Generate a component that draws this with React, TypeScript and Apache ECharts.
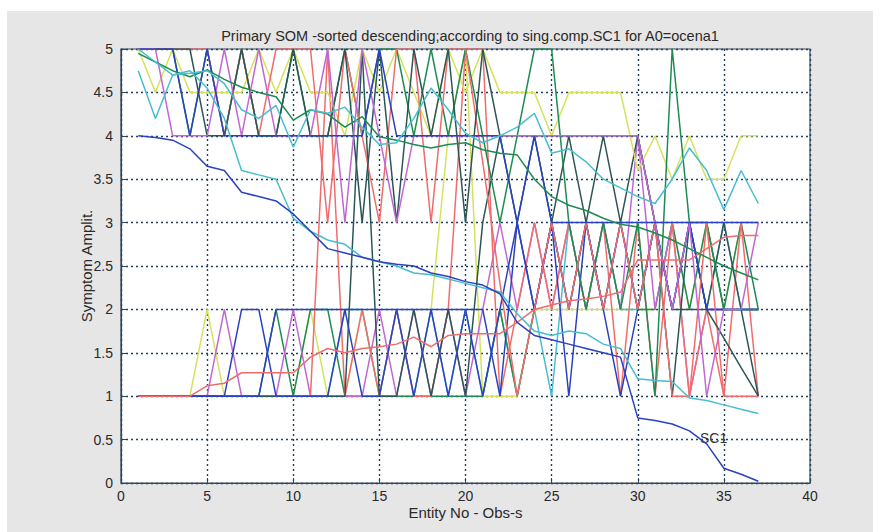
import React, { useEffect, useRef } from "react";
import * as echarts from "echarts";

const entityNo = [1,2,3,4,5,6,7,8,9,10,11,12,13,14,15,16,17,18,19,20,21,22,23,24,25,26,27,28,29,30,31,32,33,34,35,36,37];

const xTicks = [0,5,10,15,20,25,30,35,40];

// smooth component lines
const sc1 =     [4.0,3.98,3.95,3.85,3.65,3.6,3.35,3.3,3.25,3.1,2.9,2.7,2.65,2.6,2.55,2.52,2.5,2.42,2.38,2.32,2.28,2.18,1.85,1.7,1.65,1.6,1.55,1.5,1.45,0.75,0.72,0.68,0.6,0.45,0.17,0.1,0.02];
const cyanLow = [4.75,4.2,4.7,4.75,4.55,4.2,3.6,3.55,3.5,3.05,2.9,2.8,2.75,2.6,2.55,2.5,2.42,2.4,2.35,2.3,2.25,2.2,1.95,1.75,1.7,1.75,1.72,1.6,1.55,1.2,1.18,1.17,0.98,0.95,0.9,0.85,0.8];
const cyanUp =  [5.0,4.85,4.7,4.72,4.75,4.6,4.3,4.2,4.35,3.87,4.3,4.26,4.33,4.1,3.9,3.92,4.2,4.55,4.3,4.03,3.92,4.0,4.1,4.26,3.8,3.85,3.7,3.5,3.4,3.3,3.22,3.5,3.86,3.6,3.15,3.6,3.22];
const greenSm = [4.95,4.85,4.75,4.68,4.76,4.65,4.56,4.5,4.45,4.18,4.3,4.25,4.1,4.22,3.99,3.95,3.9,3.86,3.9,3.92,3.84,3.8,3.78,3.5,3.3,3.2,3.14,3.05,2.98,2.95,2.88,2.8,2.7,2.6,2.5,2.42,2.34];
const redSm =   [1,1,1,1,1.12,1.15,1.27,1.27,1.27,1.27,1.45,1.55,1.5,1.55,1.57,1.6,1.68,1.57,1.7,1.72,1.72,1.72,1.85,2.0,2.05,2.1,2.12,2.15,2.2,2.57,2.57,2.57,2.57,2.7,2.83,2.85,2.85];

// symptom lines (upper group)
const uBlue =  [5,5,5,4,5,4,4,4,4,4,4,4,4,4,5,4,4,4,4,4,4,4,3,4,3,3,3,3,3,3,3,3,3,3,3,3,3];
const uMag =   [5,5,4,4,4,5,4,5,4,4,4,5,3,5,4,3,4,4,4,4,4,4,4,4,4,4,4,4,4,4,3,2,3,1,2,2,3];
const uDark =  [5,5,5,5,4,4,5,4,4,5,4,4,5,3,5,3,5,4,5,3,5,4,4,4,4,4,4,4,4,4,3,2,2,2,1.67,1.33,1];
const uRed =   [5,5,5,5,5,4,5,4,5,5,5,3,5,4,3,5,5,3,5,5,3.7,2.3,1,2,3,2,3,2,3,2,3,1,1,3,1,1,1];
const uGreen = [5,5,5,4,5,4,5,4,4,5,4,4,5,4,5,5,4,5,4,5,4,3,4,5,5,3,2,3,2,3,1,5,3,3,2,2,2];
const uYel =   [5,4.5,5,4.5,4.5,4.5,4.5,5,4.5,5,4.5,4.5,4,5,4.5,5,4.5,4,5,4.5,5,4.5,4.5,4.5,4,4.5,4.5,4.5,4.5,3.6,4,3.5,4,3.5,3.5,4,4];

// symptom lines (lower group)
const lBlue =  [1,1,1,1,1,1,2,2,1,1,1,1,2,1,1,2,1,2,1,2,2,1,3,2,3,2,3,2,3,2,3,2,3,2,2,2,2];
const lBlue2 = [1,1,1,1,1,1,1,1,2,2,2,2,2,2,2,2,2,2,2,2,1,2,3,2,3,1,3,2,1,2,3,2,3,2,2,2,2];
const lMag =   [1,1,1,1,1,2,1,1,1,2,1,1,1,1,2,1,2,1,2,1,2,3,2,3,2,3,2,3,2,4,2,3,1,2,2,2,2];
const lYel =   [1,1,1,1,2,1,1,1,1,1,2,1,1,2,1,1,1,2,4,5,1,1,1,2,2,2,2,2,2,2,2,3,2,3,2,3,3];
const lGreen = [1,1,1,1,1,1,1,1,2,1,2,2,1,1,1,1,1,1,1,1,1,2,1,2,3,2,3,2,3,2,2,3,2,3,2,3,2];
const lCyan =  [1,1,1,1,1,1,1,1,1,1,1,1,2,2,1,2,1,2,1,2,1,2,1,2,1,3,2,3,2,2,3,2,3,2,3,2,2];
const lRed =   [1,1,1,1,1,1,1,1,1,1,1,5,1,2,1,2,1,1,2,5,5,1,2,3,2,3,2,3,1,3,1,3,1,2,1,3,1];
const lDark =  [1,1,1,1,1,1,1,1,1,1,1,1,1,5,1,1,2,1,2,1,3,4,3,4,3,4,3,4,3,4,3,1,3,2,3,2,1];

const C = {
  blue: "#2a42bf",
  green: "#1c8c52",
  red: "#f06c6c",
  cyan: "#46bed0",
  mag: "#c266d4",
  yel: "#d6e25c",
  dark: "#2c5656",
};

const lines: [string, number[], string][] = [
  ["lYel", lYel, C.yel],
  ["lCyan", lCyan, C.cyan],
  ["lGreen", lGreen, C.green],
  ["lMag", lMag, C.mag],
  ["lRed", lRed, C.red],
  ["lDark", lDark, C.dark],
  ["lBlue2", lBlue2, C.blue],
  ["lBlue", lBlue, C.blue],
  ["uYel", uYel, C.yel],
  ["uGreen", uGreen, C.green],
  ["uRed", uRed, C.red],
  ["uDark", uDark, C.dark],
  ["uMag", uMag, C.mag],
  ["uBlue", uBlue, C.blue],
  ["redSm", redSm, C.red],
  ["greenSm", greenSm, C.green],
  ["cyanUp", cyanUp, C.cyan],
  ["cyanLow", cyanLow, C.cyan],
  ["SC1", sc1, C.blue],
];

const FONT = "Liberation Sans";

export default function App() {
  const ref = useRef<HTMLDivElement>(null);
  useEffect(() => {
    if (!ref.current) return;
    const chart = echarts.init(ref.current, null, { renderer: "svg" });
    const series: any[] = lines.map(([name, vals, color]) => ({
      name,
      type: "line",
      data: entityNo.map((x, i) => [x, vals[i]]),
      symbol: "none",
      lineStyle: { color, width: 1.5 },
      z: name === "SC1" ? 5 : 3,
    }));
    series[series.length - 1].markPoint = {
      symbol: "rect",
      symbolSize: 1,
      itemStyle: { color: "rgba(0,0,0,0)" },
      label: {
        show: true,
        formatter: "SC1",
        color: "#333",
        fontSize: 14,
        fontFamily: FONT,
        position: "inside",
      },
      data: [{ coord: [34.4, 0.52] }],
    };
    const axisText = { fontSize: 14, color: "#2a2a2a", fontFamily: FONT };
    chart.setOption({
      animation: false,
      backgroundColor: "#ffffff",
      graphic: [
        { type: "rect", z: -10, shape: { x: 7, y: 11, width: 866, height: 521 }, style: { fill: "#e6e6e6" } },
      ],
      title: {
        text: "Primary SOM -sorted descending;according to sing.comp.SC1 for A0=ocena1",
        left: 465,
        textAlign: "center",
        top: 23,
        textStyle: { fontSize: 14.5, fontWeight: "normal", color: "#2a2a2a", fontFamily: FONT },
      },
      grid: {
        left: 121, right: 70, top: 49, bottom: 49,
        show: true, backgroundColor: "#ffffff", borderColor: "#34465a", borderWidth: 1.2,
      },
      xAxis: {
        type: "value", min: 0, max: 40, interval: 5,
        name: "Entity No - Obs-s", nameLocation: "middle", nameGap: 22, nameMoveOverlap: false,
        nameTextStyle: { ...axisText, fontSize: 15 },
        axisLine: { show: true, lineStyle: { color: "#34465a", width: 1.2 } },
        axisTick: { show: true, inside: true, length: 5, lineStyle: { color: "#34465a" } },
        axisLabel: { ...axisText, margin: 6, customValues: xTicks },
        splitLine: { show: true, lineStyle: { color: "#22405e", type: [2, 3], width: 1.4 } },
      },
      yAxis: {
        type: "value", min: 0, max: 5, interval: 0.5,
        name: "Symptom Amplit.", nameLocation: "middle", nameGap: 27, nameMoveOverlap: false,
        nameTextStyle: { ...axisText, fontSize: 15 },
        axisLine: { show: true, lineStyle: { color: "#34465a", width: 1.2 } },
        axisTick: { show: true, inside: true, length: 5, lineStyle: { color: "#34465a" } },
        axisLabel: { ...axisText, margin: 8 },
        splitLine: { show: true, lineStyle: { color: "#22405e", type: [2, 3], width: 1.4 } },
      },
      series,
    });
    return () => chart.dispose();
  }, []);
  return <div ref={ref} style={{ position: "fixed", left: 0, top: 0, width: 880, height: 532 }} />;
}
